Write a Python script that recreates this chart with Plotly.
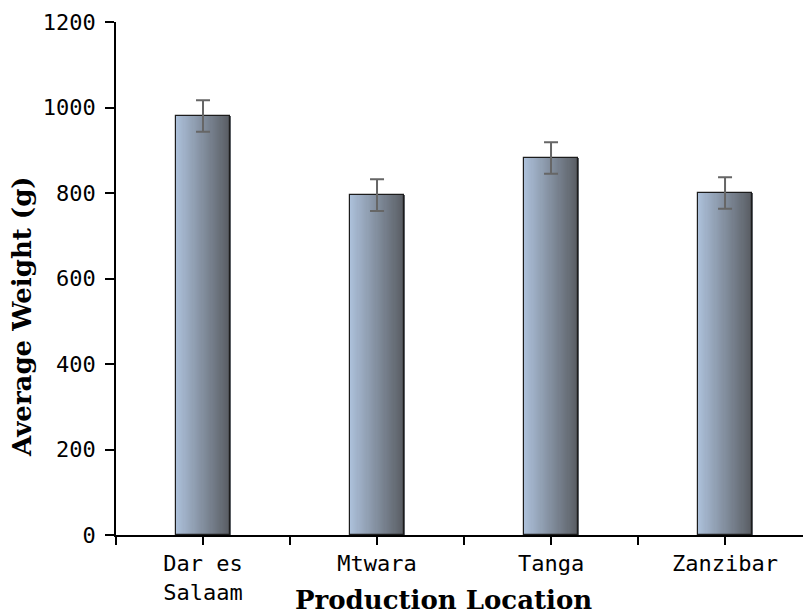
import plotly.graph_objects as go

# Average weight per production location, with standard error
locations = ["Dar es Salaam", "Mtwara", "Tanga", "Zanzibar"]
tick_labels = ["Dar es<br>Salaam", "Mtwara", "Tanga", "Zanzibar"]
avg_weight = [980, 795, 882, 800]
weight_err = [37, 37, 37, 37]
y_ticks = [0, 200, 400, 600, 800, 1000, 1200]

positions = list(range(len(locations)))
boundaries = [p - 0.5 for p in positions]

bar_width = 0.31
n_slices = 48
left_rgb = (172, 192, 218)
right_rgb = (90, 94, 100)

fig = go.Figure()

# Horizontal gradient fill built from thin vertical slices
step = bar_width / n_slices
for i in range(n_slices):
    t = i / (n_slices - 1)
    r, g, b = (round(a + (c - a) * t) for a, c in zip(left_rgb, right_rgb))
    fig.add_trace(go.Bar(
        x=positions, y=avg_weight,
        width=step * 1.6, offset=-bar_width / 2 + i * step,
        marker=dict(color=f"rgb({r},{g},{b})", line=dict(width=0)),
        showlegend=False, hoverinfo="skip",
    ))

# Bar outline with error bars on top
fig.add_trace(go.Bar(
    x=positions, y=avg_weight,
    width=bar_width, offset=-bar_width / 2,
    marker=dict(color="rgba(0,0,0,0)", line=dict(color="#1c1c1c", width=1.2)),
    error_y=dict(type="data", array=weight_err, visible=True,
                 color="#666666", thickness=2, width=7),
    showlegend=False,
))

tick_font = dict(family="DejaVu Sans Mono", size=22, color="black")
title_font = dict(family="DejaVu Serif", size=26, color="black", weight="bold")

fig.update_layout(
    width=803, height=614,
    margin=dict(l=116, r=0, t=22, b=79),
    plot_bgcolor="white", paper_bgcolor="white",
    barmode="overlay", bargap=0,
    xaxis=dict(
        range=[-0.5, 3.448],
        tickmode="array", tickvals=positions, ticktext=tick_labels,
        ticks="outside", ticklen=8, tickwidth=1.5, tickcolor="black",
        minor=dict(tickmode="array", tickvals=boundaries, ticks="outside",
                   ticklen=8, tickwidth=1.5, tickcolor="black"),
        showline=True, linecolor="black", linewidth=1.5,
        showgrid=False, zeroline=False, tickfont=tick_font,
    ),
    yaxis=dict(
        range=[0, 1200],
        tickmode="array", tickvals=y_ticks,
        ticks="outside", ticklen=9, tickwidth=1.5, tickcolor="black",
        ticklabelstandoff=5,
        showline=True, linecolor="black", linewidth=1.5,
        showgrid=False, zeroline=False, tickfont=tick_font,
    ),
    annotations=[
        dict(text="Production Location", xref="paper", yref="paper",
             x=(443 - 116) / 687, y=-0.126, xanchor="center", yanchor="middle",
             showarrow=False, font=title_font),
        dict(text="Average Weight (g)", xref="paper", yref="paper",
             x=-0.137, y=(535 - 316) / 513, xanchor="center", yanchor="middle",
             textangle=-90, showarrow=False, font=title_font),
    ],
)

fig.write_html("out.html")
